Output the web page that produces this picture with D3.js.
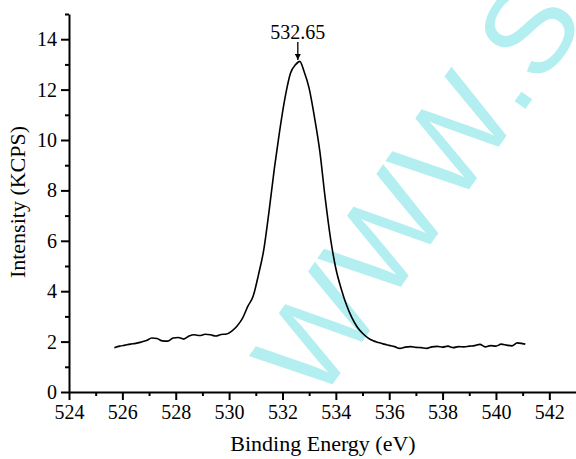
<!DOCTYPE html>
<html>
<head>
<meta charset="utf-8">
<script src="https://cdn.jsdelivr.net/npm/d3@7"></script>
<style>
  body { margin: 0; background: #fff; }
  svg { display: block; }
  .serif { font-family: "Liberation Serif", "Times New Roman", serif; }
  .axis text { font-family: "Liberation Serif", "Times New Roman", serif; font-size: 20px; fill: #000; }
  .axis path, .axis line { stroke: #000; stroke-width: 2px; }
</style>
</head>
<body>
<div id="chart"></div>
<script>
// binding energy (eV) and intensity (KCPS)
const energy = [
  525.7, 525.9, 526.1, 526.3, 526.5, 526.7, 526.9, 527.1, 527.3, 527.5,
  527.7, 527.9, 528.1, 528.3, 528.5, 528.7, 528.9, 529.1, 529.3, 529.5,
  529.7, 529.9, 530.1, 530.3, 530.5, 530.7, 530.9, 531.1, 531.3, 531.5,
  531.7, 531.9, 532.1, 532.3, 532.5, 532.65, 532.8, 533.0, 533.2, 533.4,
  533.6, 533.8, 534.0, 534.2, 534.4, 534.6, 534.8, 535.0, 535.2, 535.4,
  535.6, 535.8, 536.0, 536.2, 536.4, 536.6, 536.8, 537.0, 537.2, 537.4,
  537.6, 537.8, 538.0, 538.2, 538.4, 538.6, 538.8, 539.0, 539.2, 539.4,
  539.6, 539.8, 540.0, 540.2, 540.4, 540.6, 540.8, 541.0, 541.1
];
const intensity = [
  1.76, 1.82, 1.86, 1.90, 1.93, 1.98, 2.04, 2.14, 2.12, 2.03,
  2.02, 2.14, 2.16, 2.10, 2.22, 2.27, 2.24, 2.29, 2.27, 2.22,
  2.28, 2.30, 2.42, 2.62, 2.92, 3.40, 3.80, 4.65, 5.65, 7.20,
  8.90, 10.40, 11.70, 12.65, 13.00, 13.12, 12.75, 12.05, 10.90, 9.55,
  7.70, 6.10, 4.90, 4.10, 3.45, 2.95, 2.58, 2.33, 2.15, 2.03,
  1.96, 1.90, 1.85, 1.80, 1.73, 1.78, 1.80, 1.77, 1.76, 1.73,
  1.79, 1.81, 1.78, 1.82, 1.76, 1.80, 1.79, 1.82, 1.84, 1.89,
  1.79, 1.84, 1.82, 1.90, 1.86, 1.83, 1.95, 1.92, 1.90
];
const xMajor = [524, 526, 528, 530, 532, 534, 536, 538, 540, 542];
const xMinor = [525, 527, 529, 531, 533, 535, 537, 539, 541];
const yMajor = [0, 2, 4, 6, 8, 10, 12, 14];
const yMinor = [1, 3, 5, 7, 9, 11, 13, 15];
const peakEnergy = 532.65;
const peakLabel = "532.65";

const width = 576;
const height = 459;
const margin = { top: 14, right: 0, bottom: 67, left: 69 };

const svg = d3.select("#chart")
  .append("svg")
  .attr("width", width)
  .attr("height", height);

const x = d3.scaleLinear()
  .domain([524, 543])
  .range([margin.left, width - margin.right]);

const y = d3.scaleLinear()
  .domain([0, 15])
  .range([height - margin.bottom, margin.top]);

// watermark behind everything
svg.append("text")
  .attr("transform", "translate(318,405) rotate(-55)")
  .attr("font-family", "'Liberation Sans', Arial, sans-serif")
  .attr("font-size", 123)
  .attr("letter-spacing", 3)
  .attr("fill", "#b3eef0")
  .text("WWW.S");

// axes
svg.append("g")
  .attr("class", "axis")
  .attr("transform", `translate(0,${y(0)})`)
  .call(d3.axisBottom(x).tickValues(xMajor).tickSize(8).tickSizeOuter(0).tickPadding(5).tickFormat(d3.format("d")));

svg.append("g")
  .attr("class", "axis")
  .attr("transform", `translate(0,${y(0)})`)
  .call(d3.axisBottom(x).tickValues(xMinor).tickSize(4).tickFormat(""))
  .select(".domain").remove();

svg.append("g")
  .attr("class", "axis")
  .attr("transform", `translate(${x(524)},0)`)
  .call(d3.axisLeft(y).tickValues(yMajor).tickSize(8).tickSizeOuter(0).tickPadding(4).tickFormat(d3.format("d")));

svg.append("g")
  .attr("class", "axis")
  .attr("transform", `translate(${x(524)},0)`)
  .call(d3.axisLeft(y).tickValues(yMinor).tickSize(4).tickFormat(""))
  .select(".domain").remove();

// axis titles
svg.append("text")
  .attr("class", "serif")
  .attr("x", 323)
  .attr("y", 451)
  .attr("text-anchor", "middle")
  .attr("font-size", 22)
  .text("Binding Energy (eV)");

svg.append("text")
  .attr("class", "serif")
  .attr("transform", "translate(25,202) rotate(-90)")
  .attr("text-anchor", "middle")
  .attr("font-size", 22)
  .text("Intensity (KCPS)");

// spectrum
const line = d3.line()
  .x((d, i) => x(energy[i]))
  .y(d => y(d))
  .curve(d3.curveMonotoneX);

svg.append("path")
  .datum(intensity)
  .attr("fill", "none")
  .attr("stroke", "#000")
  .attr("stroke-width", 1.6)
  .attr("d", line);

// peak annotation
svg.append("defs").append("marker")
  .attr("id", "arrow")
  .attr("viewBox", "0 0 10 10")
  .attr("refX", 10)
  .attr("refY", 5)
  .attr("markerWidth", 5)
  .attr("markerHeight", 5)
  .attr("orient", "auto")
  .append("path")
  .attr("d", "M0,0 L10,5 L0,10 Z")
  .attr("fill", "#000");

const peakX = x(peakEnergy) - 2;
svg.append("line")
  .attr("x1", peakX).attr("x2", peakX)
  .attr("y1", 42).attr("y2", 60)
  .attr("stroke", "#000")
  .attr("stroke-width", 1.3)
  .attr("marker-end", "url(#arrow)");

svg.append("text")
  .attr("class", "serif")
  .attr("x", peakX)
  .attr("y", 39)
  .attr("text-anchor", "middle")
  .attr("font-size", 20)
  .text(peakLabel);
</script>
</body>
</html>
